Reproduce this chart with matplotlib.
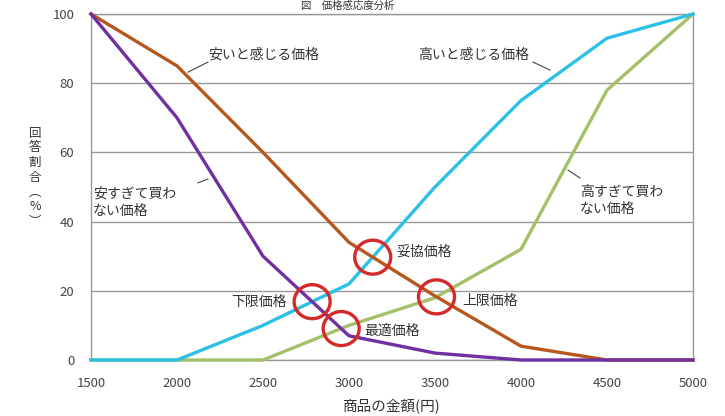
import numpy as np
import matplotlib
matplotlib.use("Agg")
import matplotlib.pyplot as plt
from matplotlib.patches import Ellipse

plt.rcParams['font.family'] = ['Noto Sans CJK JP', 'DejaVu Sans']

prices = [1500, 2000, 2500, 3000, 3500, 4000, 4500, 5000]
too_cheap = [100, 70, 30, 7, 2, 0, 0, 0]          # 安すぎて買わない価格
cheap = [100, 85, 60, 34, 18.5, 4, 0, 0]           # 安いと感じる価格
expensive = [0, 0, 10, 22, 50, 75, 93, 100]        # 高いと感じる価格
too_expensive = [0, 0, 0, 10, 18, 32, 78, 100]     # 高すぎて買わない価格
x_ticks = [1500, 2000, 2500, 3000, 3500, 4000, 4500, 5000]
y_ticks = [0, 20, 40, 60, 80, 100]

c_purple = '#7030a0'
c_brown = '#b4581c'
c_cyan = '#2cc0e6'
c_green = '#a4c068'
c_red = '#d42a2a'

W, H = 725, 416
fig = plt.figure(figsize=(7.25, 4.16), dpi=100)
ax = fig.add_axes([91 / W, (H - 360) / H, 602 / W, 346 / H])

ax.set_xlim(1500, 5000)
ax.set_ylim(0, 100)
ax.set_yticks(y_ticks)
ax.set_xticks(x_ticks)
ax.tick_params(length=0, labelsize=9.5, colors='#444')
ax.tick_params(axis='x', pad=12)
ax.tick_params(axis='y', pad=12)
for s in ax.spines.values():
    s.set_color('#999')
    s.set_linewidth(1)
ax.grid(axis='y', color='#999', linewidth=1)
ax.set_axisbelow(True)

lw = 2.4
ax.plot(prices, too_expensive, color=c_green, lw=lw, zorder=3, clip_on=False)
ax.plot(prices, expensive, color=c_cyan, lw=lw, zorder=3, clip_on=False)
ax.plot(prices, cheap, color=c_brown, lw=lw, zorder=3, clip_on=False)
ax.plot(prices, too_cheap, color=c_purple, lw=lw, zorder=3, clip_on=False)


def intersect(a, b):
    xs = np.array(prices, float)
    a = np.array(a, float)
    b = np.array(b, float)
    d = a - b
    for i in range(len(xs) - 1):
        if d[i] * d[i + 1] < 0:
            t = d[i] / (d[i] - d[i + 1])
            return xs[i] + t * (xs[i + 1] - xs[i]), a[i] + t * (a[i + 1] - a[i])
    return None


px_x = 3500 / 602.0   # data units per pixel (x)
px_y = 100 / 346.0    # data units per pixel (y)
cw = 36 * px_x
ch = 34 * px_y

pts = {
    '下限価格': intersect(too_cheap, expensive),
    '最適価格': intersect(too_cheap, too_expensive),
    '妥協価格': intersect(cheap, expensive),
    '上限価格': intersect(cheap, too_expensive),
}
for name, (px, py) in pts.items():
    ax.add_patch(Ellipse((px, py), cw, ch, fill=False, edgecolor=c_red, lw=2.4, zorder=5))

fs = 10
tc = '#333'
px0, py0 = pts['下限価格']
ax.text(px0 - 25 * px_x, py0, '下限価格', ha='right', va='center', fontsize=fs, color=tc)
px0, py0 = pts['最適価格']
ax.text(px0 + 23 * px_x, py0 - 2 * px_y, '最適価格', ha='left', va='center', fontsize=fs, color=tc)
px0, py0 = pts['妥協価格']
ax.text(px0 + 24 * px_x, py0 + 5 * px_y, '妥協価格', ha='left', va='center', fontsize=fs, color=tc)
px0, py0 = pts['上限価格']
ax.text(px0 + 26 * px_x, py0 - 4 * px_y, '上限価格', ha='left', va='center', fontsize=fs, color=tc)

ax.text(2180, 88.2, '安いと感じる価格', ha='left', va='center', fontsize=fs, color=tc)
ax.plot([2064, 2180], [83.2, 86.1], color='#444', lw=0.8)
ax.text(3401, 88.2, '高いと感じる価格', ha='left', va='center', fontsize=fs, color=tc)
ax.plot([4070, 4169], [86.1, 83.8], color='#444', lw=0.8)
ax.text(1512, 45.7, '安すぎて買わ\nない価格', ha='left', va='center', fontsize=fs, color=tc,
        linespacing=1.3)
ax.plot([2122, 2180], [51.2, 52.3], color='#444', lw=0.8)
ax.text(4343, 46.2, '高すぎて買わ\nない価格', ha='left', va='center', fontsize=fs, color=tc,
        linespacing=1.3)
ax.plot([4273, 4343], [54.9, 52.6], color='#444', lw=0.8)

ax.set_xlabel('商品の金額(円)', fontsize=10.5, color=tc, labelpad=6)

ylab = ['回', '答', '割', '合', '︵', '%', '︶']
for i, chh in enumerate(ylab):
    fig.text(35 / W, 1 - (133 + i * 14.8) / H, chh, ha='center', va='center',
             fontsize=9, color=tc)

fig.text(0.48, 0.999, '図　価格感応度分析', ha='center', va='top', fontsize=7.5, color='#333')

fig.savefig('out.png', dpi=100)
